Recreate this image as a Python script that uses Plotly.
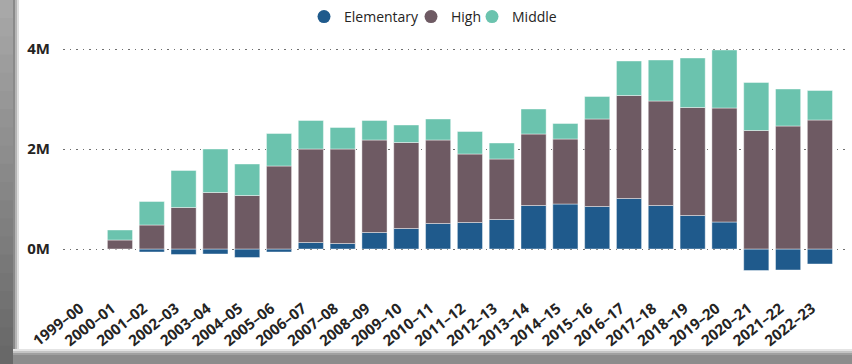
import plotly.graph_objects as go

years = ["1999–00", "2000–01", "2001–02", "2002–03", "2003–04", "2004–05", "2005–06",
         "2006–07", "2007–08", "2008–09", "2009–10", "2010–11", "2011–12", "2012–13",
         "2013–14", "2014–15", "2015–16", "2016–17", "2017–18", "2018–19", "2019–20",
         "2020–21", "2021–22", "2022–23"]

# values in millions
elementary = [None, 0.0, -0.06, -0.11, -0.10, -0.17, -0.06, 0.13, 0.11, 0.33, 0.41, 0.51,
              0.53, 0.59, 0.87, 0.90, 0.85, 1.01, 0.87, 0.67, 0.54, -0.43, -0.42, -0.30]
high = [None, 0.18, 0.48, 0.83, 1.13, 1.07, 1.66, 1.87, 1.89, 1.85, 1.72, 1.67,
        1.37, 1.21, 1.43, 1.30, 1.75, 2.06, 2.09, 2.16, 2.28, 2.37, 2.46, 2.58]
middle = [None, 0.20, 0.47, 0.74, 0.87, 0.63, 0.65, 0.57, 0.43, 0.39, 0.35, 0.42,
          0.45, 0.32, 0.50, 0.31, 0.45, 0.69, 0.82, 0.99, 1.16, 0.96, 0.74, 0.59]

tick_vals = [0, 2e6, 4e6]
tick_text = ["0M", "2M", "4M"]

series = [("Elementary", elementary, "#1F5A8C"),
          ("High", high, "#6E5A63"),
          ("Middle", middle, "#6BC3AE")]

W, H = 852, 364
ML, MR, MT, MB = 63, 6, 2, 86
Y_TOP = (249 - MT) / 50.0
Y_BOT = -(H - MB - 249) / 50.0

pw = W - ML - MR
ph = H - MT - MB
def px2paper_x(px):
    return (px - ML) / pw
def py2paper_y(py):
    return (H - MB - py) / ph

legend_names = ["legend", "legend2", "legend3"]
legend_circle_px = [324, 431, 492]

fig = go.Figure()
for name, vals, col in series:
    fig.add_trace(go.Bar(
        x=years, y=[None if v is None else v * 1e6 for v in vals], name=name,
        marker=dict(color=col, line=dict(color="rgba(255,255,255,0.7)", width=0.6)),
        width=0.79, showlegend=False, legendgroup=name))
for (name, vals, col), lg in zip(series, legend_names):
    fig.add_trace(go.Scatter(
        x=[None], y=[None], mode="markers", name=name, legendgroup=name, legend=lg,
        marker=dict(symbol="circle", size=13, color=col), showlegend=True))

# decorative frame (left and bottom gray edges)
shapes = []
n = 20
top_c = (168, 168, 168)
bot_c = (104, 104, 104)
for i in range(n):
    t = i / (n - 1)
    c = tuple(int(top_c[k] + (bot_c[k] - top_c[k]) * t) for k in range(3))
    y0 = H * i / n
    y1 = H * (i + 1) / n + 1
    shapes.append(dict(type="rect", xref="paper", yref="paper", layer="below",
                       x0=px2paper_x(0), x1=px2paper_x(13),
                       y0=py2paper_y(y1), y1=py2paper_y(y0),
                       fillcolor="rgb(%d,%d,%d)" % c, line=dict(width=0)))
for (a, b, col) in [(13, 15, "#8a8a8a"), (15, 17, "#b5b5b5"), (17, 19, "#dedede")]:
    shapes.append(dict(type="rect", xref="paper", yref="paper", layer="below",
                       x0=px2paper_x(a), x1=px2paper_x(b),
                       y0=py2paper_y(H), y1=py2paper_y(0),
                       fillcolor=col, line=dict(width=0)))
for (a, b, col) in [(349, 351, "#e4e4e4"), (351, 353, "#c4c4c4"), (353, 355, "#a0a0a0"), (355, 365, "#8c8c8c")]:
    shapes.append(dict(type="rect", xref="paper", yref="paper", layer="below",
                       x0=px2paper_x(13), x1=px2paper_x(W),
                       y0=py2paper_y(b), y1=py2paper_y(a),
                       fillcolor=col, line=dict(width=0)))

legend_common = dict(orientation="h", xanchor="left", yanchor="middle",
                     font=dict(size=14, color="#252423"), itemwidth=30,
                     bgcolor="rgba(0,0,0,0)", borderwidth=0)
layout_legends = {}
for lg, cx in zip(legend_names, legend_circle_px):
    layout_legends[lg] = dict(legend_common, x=px2paper_x(cx - 20), y=py2paper_y(17))

fig.update_layout(
    width=W, height=H,
    margin=dict(l=ML, r=MR, t=MT, b=MB, pad=0, autoexpand=False),
    barmode="relative",
    paper_bgcolor="white", plot_bgcolor="white",
    font=dict(family="Open Sans", color="#252423"),
    shapes=shapes,
    xaxis=dict(range=[-0.79, 23.82], tickangle=-38, showgrid=False, showline=False,
               ticks="", ticklabelstandoff=18, ticklabelshift=-8, automargin=False,
               tickfont=dict(size=15, family="Open Sans", weight="bold", color="#252423"),
               fixedrange=True),
    yaxis=dict(range=[Y_BOT * 1e6, Y_TOP * 1e6], tickvals=tick_vals, ticktext=tick_text,
               showgrid=True, gridcolor="#6f6f6f", gridwidth=1, griddash="1.5px,5px",
               zeroline=False, showline=False, ticks="", ticklabelstandoff=12,
               automargin=False,
               tickfont=dict(size=15, family="Open Sans", weight="bold", color="#252423"),
               fixedrange=True),
    **layout_legends,
)

fig.write_html("out.html")
